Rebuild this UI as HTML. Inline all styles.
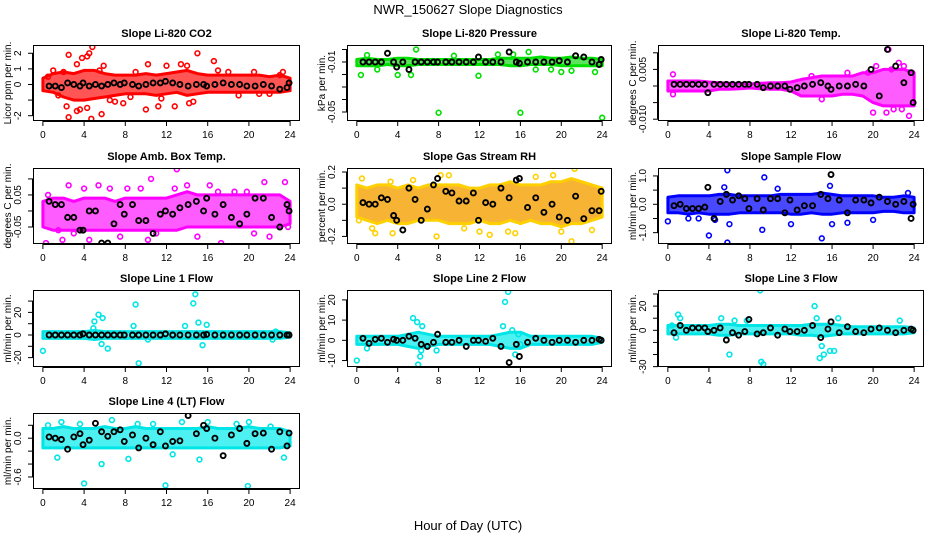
<!DOCTYPE html>
<html><head><meta charset="utf-8"><style>
html,body{margin:0;padding:0;background:#fff;}
svg{display:block;font-family:"Liberation Sans",Arial,sans-serif;}
</style></head><body>
<svg id="chart" width="936" height="540" viewBox="0 0 936 540" xmlns="http://www.w3.org/2000/svg">
<text x="468" y="14" text-anchor="middle" font-size="13">NWR_150627  Slope Diagnostics</text>
<text x="468" y="530" text-anchor="middle" font-size="13">Hour of Day (UTC)</text>
</svg>
<script>
// shared x categories
const xTicks = [0,4,8,12,16,20,24];
const blackHours = [0.6,1.2,1.8,2.4,3.0,3.6,3.9,4.5,5.1,5.7,6.3,6.9,7.5,7.9,8.7,9.3,10.0,10.7,11.4,11.9,12.6,13.3,14.1,14.9,15.6,15.9,16.7,17.5,18.3,19.1,19.8,20.6,21.4,22.2,23.0,23.7,23.9];
const bandHours = [0,1,2,3,4,5,6,7,8,9,10,11,12,13,14,15,16,17,18,19,20,21,22,23,24];

// CO2
const co2BandLo = [-0.4,-0.5,-0.8,-1.0,-1.0,-0.9,-0.8,-0.7,-0.6,-0.6,-0.6,-0.7,-0.6,-0.5,-0.7,-0.6,-0.5,-0.5,-0.5,-0.5,-0.5,-0.5,-0.5,-0.5,-0.4];
const co2BandHi = [0.4,0.7,0.8,0.7,0.9,0.9,0.7,0.6,0.6,0.6,0.7,0.6,0.7,0.8,0.9,0.7,0.6,0.6,0.6,0.6,0.6,0.6,0.5,0.6,0.4];
const co2OutX = [2.5,3.3,3.8,4.3,4.5,4.8,5.5,5.9,2.5,2.3,3.3,3.6,4.3,4.7,5.7,6.5,7,7.8,10,11.2,11.5,12.8,13.4,15,14.2,14.6,16.6,10.2,9,18,20.5,21,23.3,1,2,0.5,1.5,8.5,12,14,17,19,22,23];
const co2OutY = [1.9,1.3,1.7,1.8,2.0,2.4,0.9,1.2,-2.1,-1.4,-1.7,-1.6,-1.5,-2.2,-1.9,-1.0,-1.1,-1.2,-1.6,-1.4,-0.9,-1.4,1.3,2.0,-1.2,-1.1,1.5,1.3,0.8,0.8,0.8,-0.6,0.8,0.9,0.8,0.5,-0.7,-0.8,1.2,1.2,0.9,-0.7,-0.6,0.6];
const co2Black = [-0.1,-0.1,-0.2,0.1,0,-0.1,0.1,-0.1,0,-0.1,0,0.1,0,0.1,0,-0.1,0,0.1,0.1,0.2,0.1,0,-0.1,0,0,-0.1,0,0.1,0,0,-0.1,-0.1,0,-0.1,-0.3,-0.2,0.1];
const co2Ticks = [-2,-1,0,1,2];
const co2Labels = ["-2","","0","1","2"];

// Pressure
const prBandLo = [-0.013,-0.013,-0.013,-0.012,-0.013,-0.013,-0.012,-0.012,-0.012,-0.012,-0.012,-0.012,-0.012,-0.012,-0.012,-0.013,-0.013,-0.012,-0.012,-0.012,-0.013,-0.013,-0.013,-0.013,-0.013];
const prBandHi = [-0.008,-0.007,-0.008,-0.008,-0.007,-0.007,-0.008,-0.008,-0.008,-0.008,-0.008,-0.008,-0.008,-0.008,-0.007,-0.007,-0.007,-0.007,-0.006,-0.007,-0.007,-0.006,-0.007,-0.007,-0.008];
const prOutX = [0.4,8,16,24,5.3,4,21,2,11.9,1,5.8,9.5,13.8,15.3,16.8,17.5,19,20,23.3];
const prOutY = [-0.0204,-0.0506,-0.0506,-0.0546,-0.0204,-0.0204,-0.017,-0.016,-0.021,-0.0045,0.0,-0.005,-0.004,-0.004,-0.002,-0.016,-0.016,-0.018,-0.018];
const prBlack = [-0.01,-0.01,-0.01,-0.01,-0.003,-0.01,-0.014,-0.01,-0.016,-0.01,-0.01,-0.01,-0.01,-0.01,-0.01,-0.01,-0.01,-0.01,-0.01,-0.006,-0.01,-0.01,-0.01,-0.002,-0.01,-0.011,-0.01,-0.01,-0.01,-0.01,-0.009,-0.01,-0.005,-0.006,-0.01,-0.012,-0.008];
const prTicks = [0,-0.01,-0.02,-0.03,-0.04,-0.05];
const prLabels = ["","-0.01","","","","-0.05"];

// Li-820 Temp
const ltBandLo = [-0.0015,-0.0015,-0.0015,-0.0015,-0.0015,-0.001,-0.001,-0.0008,-0.0006,-0.0008,-0.001,-0.001,-0.0015,-0.003,-0.003,-0.003,-0.003,-0.0025,-0.0025,-0.003,-0.005,-0.006,-0.006,-0.006,-0.006];
const ltBandHi = [0.0015,0.0015,0.0015,0.0015,0.0012,0.001,0.0008,0.0008,0.0006,0.0008,0.001,0.001,0.0012,0.002,0.0025,0.003,0.003,0.003,0.003,0.004,0.004,0.005,0.005,0.005,0.004];
const ltOutX = [21.5,20.8,21.3,23.5,20,22,23,22.5,17.5,14,15,0.5,0.5,19.5,20.3,22.8,23.8,21.8];
const ltOutY = [0.011,-0.011,-0.008,-0.009,-0.008,-0.007,0.006,0.007,0.004,0.003,-0.004,0.0035,-0.0025,0.004,0.006,-0.007,0.004,0.005];
const ltBlack = [0.0005,0.0005,0.0005,0.0005,0.0005,0.0005,-0.002,0.0005,0.0005,0.0005,0.0005,0.0005,0.0005,0.0005,0.0005,-0.0005,0,0,0,-0.001,-0.0005,0,0.0005,0.001,0,-0.001,0,0,0.0005,0,0.005,-0.003,0.011,0.006,0.001,0.004,-0.005];
const ltTicks = [0.01,0.005,0,-0.005,-0.01];
const ltLabels = ["","0.005","","","-0.010"];

// Amb Box Temp
const abBandLo = [-0.05,-0.06,-0.06,-0.06,-0.06,-0.06,-0.06,-0.06,-0.06,-0.06,-0.06,-0.06,-0.06,-0.06,-0.05,-0.05,-0.05,-0.05,-0.05,-0.05,-0.05,-0.05,-0.05,-0.05,-0.04];
const abBandHi = [0.03,0.04,0.04,0.03,0.04,0.04,0.04,0.03,0.04,0.04,0.04,0.04,0.04,0.05,0.06,0.05,0.05,0.05,0.05,0.05,0.05,0.05,0.05,0.05,0.03];
const abOutX = [0.3,1.9,2.5,5.4,4,4.5,6.5,8.2,10.2,9.5,10.5,13,14,17.3,16.2,18.6,21.5,23.5,22,19.8,0.5,1.5,3,7.5,11,12.8,15,20.5,23.8,17];
const abOutY = [-0.1,-0.09,0.08,0.08,0.07,-0.09,0.07,0.07,-0.09,0.07,0.1,0.13,0.08,-0.1,0.08,0.06,0.09,0.09,-0.08,0.06,0.05,-0.06,-0.07,-0.08,-0.07,0.07,-0.08,-0.07,-0.05,0.06];
const abBlack = [0.03,0.02,0.02,-0.02,-0.02,-0.06,-0.06,0.0,0.0,-0.1,-0.1,-0.04,0.02,-0.01,0.02,-0.03,-0.03,-0.07,-0.01,0.0,-0.01,0.01,0.02,0.03,0.0,0.04,-0.01,0.02,-0.02,-0.04,-0.01,0.04,0.04,-0.02,-0.05,0.02,0.0];
const abTicks = [0.1,0.05,0,-0.05];
const abLabels = ["","0.05","","-0.05"];

// Gas Stream RH
const rhBandLo = [-0.08,-0.1,-0.12,-0.1,-0.12,-0.12,-0.1,-0.1,-0.1,-0.12,-0.12,-0.12,-0.1,-0.12,-0.12,-0.1,-0.12,-0.1,-0.12,-0.12,-0.14,-0.12,-0.12,-0.1,-0.08];
const rhBandHi = [0.12,0.1,0.12,0.12,0.1,0.12,0.1,0.12,0.12,0.12,0.12,0.1,0.1,0.12,0.12,0.14,0.12,0.12,0.12,0.14,0.14,0.16,0.14,0.12,0.1];
const rhOutX = [0.5,1.5,1.8,3.3,3.5,7.8,9,8.2,12,13,14.8,15.5,19.2,20,21,21.3,0.2,5.5,10.5,17.5,23];
const rhOutY = [0.16,-0.15,-0.18,0.14,-0.18,-0.2,0.18,0.18,-0.17,-0.19,-0.17,-0.18,0.18,-0.17,-0.23,0.22,-0.1,0.15,-0.15,0.17,-0.16];
const rhBlack = [0.01,0.0,0.0,0.04,0.03,-0.07,-0.1,-0.16,0.1,0.03,-0.1,-0.03,0.12,0.16,0.08,0.07,0.02,0.02,0.07,-0.1,0.01,0.0,0.1,0.04,0.15,0.16,-0.02,0.04,-0.05,0.0,-0.08,-0.1,0.05,-0.09,-0.04,-0.04,0.08];
const rhTicks = [0.2,0.1,0,-0.1,-0.2];
const rhLabels = ["0.2","","0.0","","-0.2"];

// Sample Flow
const sfBandLo = [-0.3,-0.3,-0.35,-0.3,-0.35,-0.35,-0.35,-0.3,-0.3,-0.3,-0.3,-0.3,-0.35,-0.35,-0.3,-0.35,-0.35,-0.3,-0.3,-0.3,-0.3,-0.25,-0.25,-0.3,-0.3];
const sfBandHi = [0.25,0.3,0.3,0.3,0.3,0.35,0.35,0.3,0.3,0.3,0.3,0.35,0.35,0.35,0.35,0.4,0.35,0.3,0.3,0.3,0.3,0.25,0.25,0.3,0.25];
const sfOutX = [5.8,9.4,4,5.8,15,9.2,12,16,20,15.8,5.5,10.7,0,4.6,6,17.5,23.4,2,3];
const sfOutY = [1.2,0.95,-1.1,-1.35,-1.2,-0.9,-0.7,-0.7,-0.55,0.65,0.6,0.55,-0.6,-0.55,-0.7,-0.65,0.4,-0.5,-0.5];
const sfBlack = [-0.05,0.0,-0.15,-0.15,-0.15,-0.1,0.6,-0.5,0.1,0.35,0.15,0.3,0.2,-0.15,0.2,-0.2,0.2,0.2,-0.3,0.15,-0.2,-0.05,-0.05,0.35,0.2,1.05,0.15,-0.3,0.15,0.15,0.05,0.25,0.1,0.0,0.1,-0.5,0.0];
const sfTicks = [1.0,0.5,0,-0.5,-1.0];
const sfLabels = ["1.0","","0.0","","-1.0"];

// Line 1 Flow
const l1BandLo = [-3,-3,-3,-3,-3,-4,-3,-3,-3,-3,-3,-3,-3,-3,-3,-3,-3,-3,-3,-3,-3,-3,-3,-3,-2];
const l1BandHi = [3,3,3,3,3,4,3,3,3,3,3,3,3,3,3,3,3,3,3,3,3,3,3,3,2];
const l1OutX = [0,5.4,5.8,5,5.7,6.3,9,9.3,8.8,14.6,14.8,15.1,15.5,15.9,4.9,13.8,22.6,10.2,22.3];
const l1OutY = [-14,18,15,12,-8,-12,27,-25,8,28,36,11,-9,9,6,8,3,-4,-4];
const l1Black = [0,0,0,0,0,0,1,0,0,0,0,0,0,0,0,0,0,0,0,1,0,0,0,0,0,0.5,0,0,0,0,0,0,0,0,0,0,0];
const l1Ticks = [30,20,10,0,-10,-20];
const l1Labels = ["","20","","0","","-20"];

// Line 2 Flow
const l2BandLo = [-2,-2,-2,-2,-2,-3,-4,-3,-2,-2,-2,-2,-2,-2,-3,-4,-4,-2,-2,-2,-2,-2,-2,-2,-1];
const l2BandHi = [2,2,2,2,2,3,4,3,2,2,2,2,2,2,3,4,4,2,2,2,2,2,2,2,1];
const l2OutX = [0,5.5,5.9,6,6.2,6.4,6.3,14.5,14.8,14.3,15.2,15.5,16,15.8,7.8,1];
const l2OutY = [-10,11,9,-12,-8,7,-5,19,24,7,5,-7,-2,3,-5,-4];
const l2Black = [1,-1.5,0.5,1,-1,0.5,0,0,2,1,-2,-3,-1,3,-1,-1,0,-3,0,0,-0.5,1,-3,-11,-2,-8,-1,1,0,-1,0,0,-1,0,0,0.5,0];
const l2Ticks = [20,10,0,-10];
const l2Labels = ["20","10","0","-10"];

// Line 3 Flow
const l3BandLo = [-3,-3,-3,-3,-3,-4,-4,-3,-3,-3,-3,-3,-3,-4,-4,-5,-4,-3,-3,-3,-3,-3,-3,-3,-2];
const l3BandHi = [4,4,4,4,4,5,5,4,4,4,4,4,4,4,5,5,5,4,3,3,3,3,3,3,2];
const l3OutX = [1,1.2,5.2,6,6.5,9,9.1,9.3,7.7,14.3,14.5,15,15.2,15.8,16.2,16.6,14.8,22.6,0.4,0.8];
const l3OutY = [13,10,10,-20,8,33,-26,-28,8,20,10,-13,-20,-17,-17,10,-23,8,4,-6];
const l3Black = [-2,4,0,2,2,2,-1,0,2,-8,-2,-4,-1,9,-3,-2,2,-4,1,-1,-1,0,4,-6,1,7,-2,3,-1,-2,1,2,0,-2,0,1,0];
const l3Ticks = [30,20,10,0,-10,-20,-30];
const l3Labels = ["","20","","0","","","-30"];

// Line 4 (LT) Flow
const l4BandLo = [-0.15,-0.15,-0.15,-0.15,-0.15,-0.15,-0.15,-0.15,-0.15,-0.15,-0.15,-0.15,-0.15,-0.15,-0.15,-0.15,-0.15,-0.15,-0.15,-0.15,-0.15,-0.15,-0.15,-0.15,-0.12];
const l4BandHi = [0.15,0.15,0.18,0.15,0.15,0.15,0.18,0.15,0.15,0.18,0.15,0.15,0.15,0.15,0.15,0.15,0.18,0.15,0.15,0.15,0.18,0.15,0.15,0.15,0.1];
const l4OutX = [0.5,1.8,4,11.9,19.9,1.4,5.7,8.3,6.7,16,15.2,23.4,13.5,3.6,9.2,12.6,20,18.8,22.1,10.7];
const l4OutY = [0.2,0.25,-0.7,-0.73,-0.74,-0.3,-0.4,-0.32,0.28,0.25,-0.33,-0.3,0.25,0.22,0.22,-0.25,0.25,0.22,0.18,0.22];
const l4Black = [0.02,0.0,-0.02,-0.17,0.02,0.07,-0.1,-0.03,0.23,0.1,0.03,0.1,0.13,-0.05,0.05,-0.15,0.0,-0.1,0.1,-0.12,-0.05,-0.04,0.35,0.07,0.2,0.15,0.0,-0.27,0.05,0.15,-0.08,0.07,0.08,-0.17,0.1,-0.12,0.08];
const l4Ticks = [0.2,0,-0.2,-0.4,-0.6];
const l4Labels = ["","0.0","","","-0.6"];

const colLeft = [33,347,658];
const colRight = [300,612,924];
const rowTop = [45,168,290,413];
const rowBot = [121,244,367,489];

const panels = [
 {id:'co2',col:0,row:0,title:'Slope Li-820 CO2',ylab:'Licor ppm per min.',ymin:-2.34,ymax:2.53,color:'#ff0000',band:'#ff2a2a',lo:co2BandLo,hi:co2BandHi,ox:co2OutX,oy:co2OutY,by:co2Black,ticks:co2Ticks,labels:co2Labels},
 {id:'pressure',col:1,row:0,title:'Slope Li-820 Pressure',ylab:'kPa per min.',ymin:-0.0572,ymax:0.0036,color:'#00e000',band:'#33dd33',lo:prBandLo,hi:prBandHi,ox:prOutX,oy:prOutY,by:prBlack,ticks:prTicks,labels:prLabels},
 {id:'li820-temp',col:2,row:0,title:'Slope Li-820 Temp.',ylab:'degrees C per min.',ymin:-0.01054,ymax:0.01235,color:'#ff00ff',band:'#ff33ff',lo:ltBandLo,hi:ltBandHi,ox:ltOutX,oy:ltOutY,by:ltBlack,ticks:ltTicks,labels:ltLabels},
 {id:'amb-box-temp',col:0,row:1,title:'Slope Amb. Box Temp.',ylab:'degrees C per min.',ymin:-0.103,ymax:0.134,color:'#ff00ff',band:'#ff33ff',lo:abBandLo,hi:abBandHi,ox:abOutX,oy:abOutY,by:abBlack,ticks:abTicks,labels:abLabels},
 {id:'gas-stream-rh',col:1,row:1,title:'Slope Gas Stream RH',ylab:'percent per min.',ymin:-0.247,ymax:0.225,color:'#ffd000',band:'#f5a000',lo:rhBandLo,hi:rhBandHi,ox:rhOutX,oy:rhOutY,by:rhBlack,ticks:rhTicks,labels:rhLabels},
 {id:'sample-flow',col:2,row:1,title:'Slope Sample Flow',ylab:'ml/min per min.',ymin:-1.40,ymax:1.28,color:'#0000ff',band:'#1a1aff',lo:sfBandLo,hi:sfBandHi,ox:sfOutX,oy:sfOutY,by:sfBlack,ticks:sfTicks,labels:sfLabels},
 {id:'line1-flow',col:0,row:2,title:'Slope Line 1 Flow',ylab:'ml/min per min.',ymin:-28.3,ymax:39.8,color:'#00e5e5',band:'#22eeee',lo:l1BandLo,hi:l1BandHi,ox:l1OutX,oy:l1OutY,by:l1Black,ticks:l1Ticks,labels:l1Labels},
 {id:'line2-flow',col:1,row:2,title:'Slope Line 2 Flow',ylab:'ml/min per min.',ymin:-13.2,ymax:24.9,color:'#00e5e5',band:'#22eeee',lo:l2BandLo,hi:l2BandHi,ox:l2OutX,oy:l2OutY,by:l2Black,ticks:l2Ticks,labels:l2Labels},
 {id:'line3-flow',col:2,row:2,title:'Slope Line 3 Flow',ylab:'ml/min per min.',ymin:-30.3,ymax:33.3,color:'#00e5e5',band:'#22eeee',lo:l3BandLo,hi:l3BandHi,ox:l3OutX,oy:l3OutY,by:l3Black,ticks:l3Ticks,labels:l3Labels},
 {id:'line4-flow',col:0,row:3,title:'Slope Line 4 (LT) Flow',ylab:'ml/min per min.',ymin:-0.786,ymax:0.39,color:'#00e5e5',band:'#22eeee',lo:l4BandLo,hi:l4BandHi,ox:l4OutX,oy:l4OutY,by:l4Black,ticks:l4Ticks,labels:l4Labels}
];

const NS='http://www.w3.org/2000/svg';
const svg=document.getElementById('chart');
function mk(tag,attrs,parent){const e=document.createElementNS(NS,tag);for(const k in attrs)e.setAttribute(k,attrs[k]);(parent||svg).appendChild(e);return e;}

panels.forEach(p=>{
  const L=colLeft[p.col],R=colRight[p.col],T=rowTop[p.row],B=rowBot[p.row];
  const xs=h=>L+(h+0.96)/25.92*(R-L);
  const ys=v=>B-(v-p.ymin)/(p.ymax-p.ymin)*(B-T);
  const g=mk('g',{});
  
  
  const cp=mk('clipPath',{id:'cp-'+p.id},g);
  mk('rect',{x:L,y:T,width:R-L,height:B-T},cp);
  const dg=mk('g',{'clip-path':'url(#cp-'+p.id+')'},g);
  let pts=[];
  const n=Math.min(bandHours.length,p.hi.length,p.lo.length);
  for(let i=0;i<n;i++)pts.push(xs(bandHours[i]).toFixed(1)+','+ys(p.hi[i]).toFixed(1));
  for(let i=n-1;i>=0;i--)pts.push(xs(bandHours[i]).toFixed(1)+','+ys(p.lo[i]).toFixed(1));
  const band=mk('polygon',{points:pts.join(' '),fill:p.band,'fill-opacity':0.8,stroke:p.color,'stroke-width':3,'stroke-linejoin':'round'},dg);
  
  
  const m=Math.min(p.ox.length,p.oy.length);
  for(let i=0;i<m;i++){
    const c=mk('circle',{cx:xs(p.ox[i]),cy:ys(p.oy[i]),r:2.4,fill:'none',stroke:p.color,'stroke-width':1.6},dg);
    
    
  }
  const k=Math.min(blackHours.length,p.by.length);
  for(let i=0;i<k;i++){
    const c=mk('circle',{cx:xs(blackHours[i]),cy:ys(p.by[i]),r:2.5,fill:'none',stroke:'#000','stroke-width':1.9},dg);
    
    
  }
  const box=mk('rect',{x:L+0.5,y:T+0.5,width:R-L-1,height:B-T-1,fill:'none',stroke:'#000','stroke-width':1},g);
  
  
  mk('line',{x1:xs(xTicks[0]),x2:xs(xTicks[xTicks.length-1]),y1:B+0.5,y2:B+0.5,stroke:'#000'},g);
  xTicks.forEach(t=>{
    mk('line',{x1:xs(t),x2:xs(t),y1:B,y2:B+5,stroke:'#000'},g);
    const tx=mk('text',{x:xs(t),y:B+17,'text-anchor':'middle','font-size':10},g);
    tx.textContent=t;
    
    
  });
  p.ticks.forEach((t,i)=>{
    const y=ys(t);
    if(y<T-1||y>B+1)return;
    mk('line',{x1:L-5,x2:L,y1:y,y2:y,stroke:'#000'},g);
    if(p.labels[i]){
      const tx=mk('text',{x:L-12,y:y,'text-anchor':'middle','font-size':10,transform:'rotate(-90 '+(L-12)+' '+y+')'},g);
      tx.textContent=p.labels[i];
      
      
    }
  });
  const tv=p.ticks.map(ys).filter(y=>y>=T-1&&y<=B+1);
  mk('line',{x1:L-0.5,x2:L-0.5,y1:Math.min(...tv),y2:Math.max(...tv),stroke:'#000'},g);
  const yl=mk('text',{x:0,y:0,'text-anchor':'middle','font-size':10,transform:'translate('+(L-22)+' '+((T+B)/2)+') rotate(-90)'},g);
  yl.textContent=p.ylab;
  
  
  const ti=mk('text',{x:(L+R)/2,y:T-8,'text-anchor':'middle','font-size':11,'font-weight':'bold'},g);
  ti.textContent=p.title;
  
  
});
</script>
</body></html>
